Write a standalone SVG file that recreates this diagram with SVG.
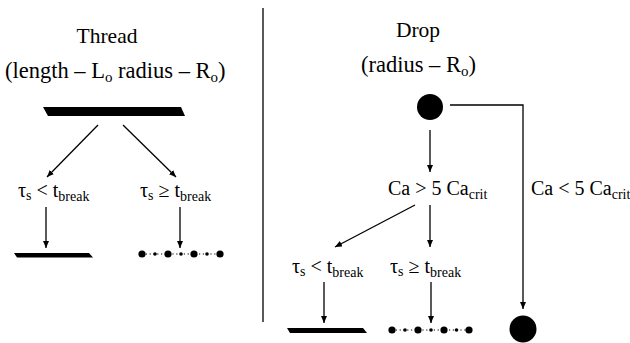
<svg xmlns="http://www.w3.org/2000/svg" width="630" height="343" viewBox="0 0 630 343" font-family="'Liberation Serif', 'Times New Roman', 'DejaVu Serif', serif">
<defs>
<style>
text{font-family:'Liberation Serif','Times New Roman','DejaVu Serif',serif;fill:#000;font-size:20px}
.title{font-size:21.5px}
.par{font-size:22.5px}
.sub{font-size:14px}
.psub{font-size:15px}
.ln{stroke:#000;stroke-width:1.3;fill:none}
.arr{stroke:#000;stroke-width:1.3;fill:none;marker-end:url(#ah)}
.dash{stroke:#000;stroke-width:1.2;stroke-dasharray:1.2 2.6;fill:none}
</style>
<marker id="ah" viewBox="0 0 10 10" refX="10" refY="5" markerWidth="7" markerHeight="6" markerUnits="userSpaceOnUse" orient="auto" preserveAspectRatio="none">
<path d="M0,0 L10,5 L0,10 z" fill="#000"/>
</marker>
</defs>
<rect width="630" height="343" fill="#fff"/>

<g id="thread-title">
<text class="title" x="107" y="43" text-anchor="middle">Thread</text>
<text class="par" x="5" y="78">(length – L<tspan class="psub" dy="4">o</tspan><tspan dy="-4"> radius – R</tspan><tspan class="psub" dy="4">o</tspan><tspan dy="-4">)</tspan></text>
</g>
<g id="thread-bar"><polygon points="43,107 181,107 185,116 48,116" fill="#000"/></g>
<g id="thread-lt"><text x="18" y="197">τ<tspan class="sub" dy="3">s</tspan><tspan dy="-3"> &lt; t</tspan><tspan class="sub" dy="4">break</tspan></text></g>
<g id="thread-ge"><text x="140" y="197">τ<tspan class="sub" dy="3">s</tspan><tspan dy="-3"> ≥ t</tspan><tspan class="sub" dy="4">break</tspan></text></g>
<g id="thread-result-bar"><polygon points="14,253 89,253 93,257.5 17,257.5" fill="#000"/></g>
<g id="thread-result-drops">
<line class="dash" x1="142" y1="254" x2="220" y2="254"/>
<circle cx="142" cy="254" r="3.6"/><circle cx="168" cy="254" r="3.6"/><circle cx="194" cy="254" r="3.6"/><circle cx="220" cy="254" r="3.6"/>
<circle cx="155" cy="254" r="1.8"/><circle cx="181" cy="254" r="1.8"/><circle cx="207" cy="254" r="1.8"/>
</g>

<g id="divider"><line class="ln" x1="263" y1="8" x2="263" y2="322"/></g>

<g id="drop-title">
<text class="title" x="418" y="37" text-anchor="middle">Drop</text>
<text class="par" x="361" y="72">(radius – R<tspan class="psub" dy="4">o</tspan><tspan dy="-4">)</tspan></text>
</g>
<g id="drop"><circle cx="430" cy="107" r="13"/></g>
<g id="ca-gt"><text x="388" y="195">Ca &gt; 5 Ca<tspan class="sub" dy="4">crit</tspan></text></g>
<g id="ca-lt"><text x="531" y="195">Ca &lt; 5 Ca<tspan class="sub" dy="4">crit</tspan></text></g>
<g id="drop-lt"><text x="292" y="273">τ<tspan class="sub" dy="3">s</tspan><tspan dy="-3"> &lt; t</tspan><tspan class="sub" dy="4">break</tspan></text></g>
<g id="drop-ge"><text x="390" y="273">τ<tspan class="sub" dy="3">s</tspan><tspan dy="-3"> ≥ t</tspan><tspan class="sub" dy="4">break</tspan></text></g>
<g id="drop-result-bar"><polygon points="287,328 363,328 367,333 290,333" fill="#000"/></g>
<g id="drop-result-drops">
<line class="dash" x1="392" y1="330" x2="469" y2="330"/>
<circle cx="392" cy="330" r="3.6"/><circle cx="418" cy="330" r="3.6"/><circle cx="444" cy="330" r="3.6"/><circle cx="469" cy="330" r="3.6"/>
<circle cx="405" cy="330" r="1.8"/><circle cx="431" cy="330" r="1.8"/><circle cx="456.5" cy="330" r="1.8"/>
</g>
<g id="drop-result-whole"><circle cx="523" cy="329" r="13.5"/></g>

<g id="connectors">
<line class="arr" x1="98" y1="125" x2="47" y2="177"/>
<line class="arr" x1="123" y1="125" x2="176" y2="177"/>
<line class="arr" x1="46" y1="207" x2="46" y2="248"/>
<line class="arr" x1="180" y1="207" x2="180" y2="248"/>
<line class="arr" x1="430" y1="130" x2="430" y2="172"/>
<polyline class="arr" points="450,105 523,105 523,309"/>
<line class="arr" x1="415" y1="205" x2="335" y2="247"/>
<line class="arr" x1="430" y1="205" x2="430" y2="247"/>
<line class="arr" x1="324" y1="282" x2="324" y2="323"/>
<line class="arr" x1="431" y1="282" x2="431" y2="323"/>
</g>
</svg>
